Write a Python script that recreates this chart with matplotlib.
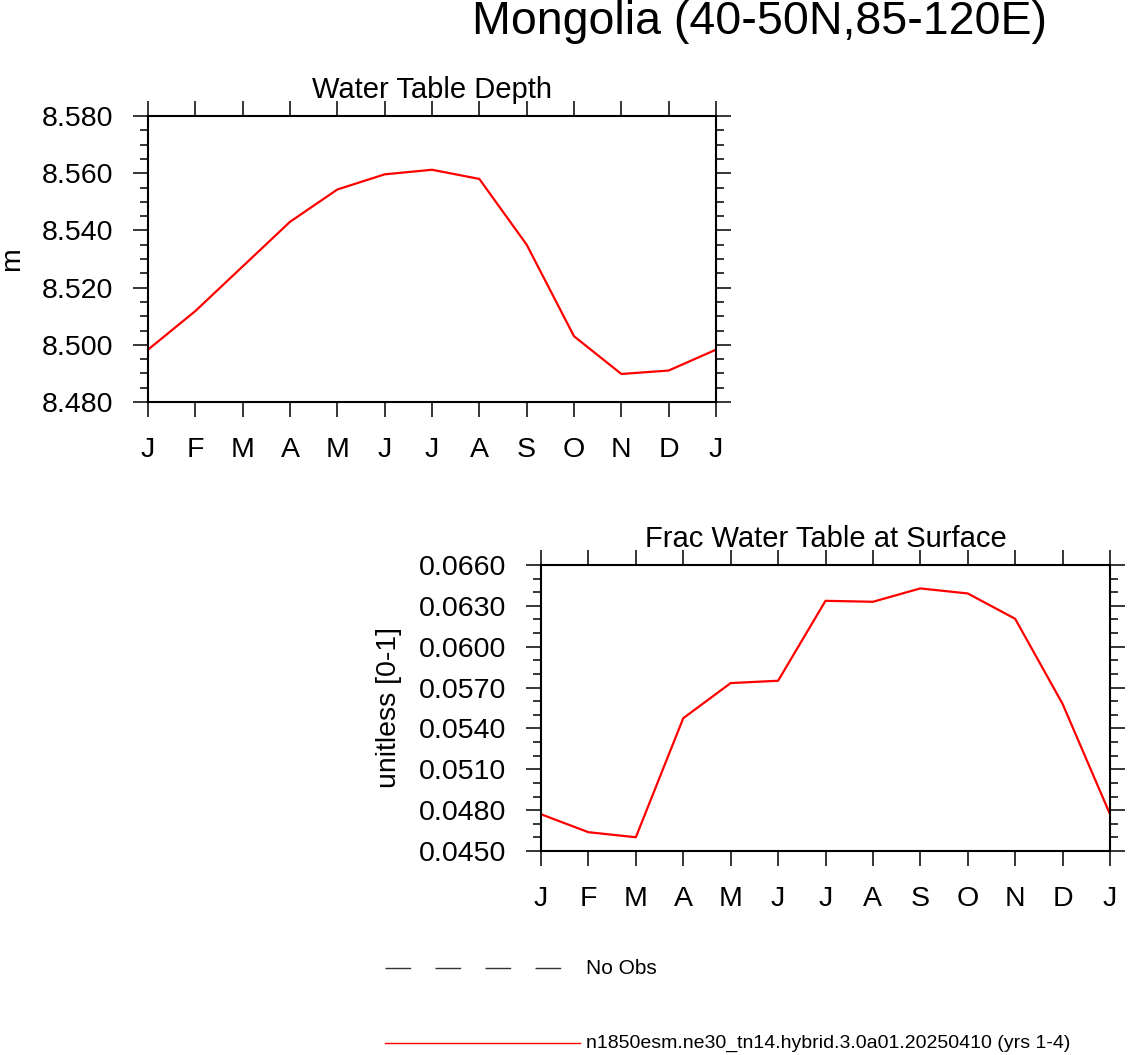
import matplotlib
matplotlib.use("Agg")
import matplotlib.pyplot as plt
from matplotlib.lines import Line2D
from matplotlib.ticker import MultipleLocator

plt.rcParams['font.family'] = ['Liberation Sans', 'DejaVu Sans']

months = ['J', 'F', 'M', 'A', 'M', 'J', 'J', 'A', 'S', 'O', 'N', 'D', 'J']

# monthly climatology, Jan repeated at the end
wtd = [8.4983, 8.5118, 8.5274, 8.5430, 8.5543, 8.5596, 8.5612,
       8.5580, 8.5350, 8.5030, 8.4898, 8.4910, 8.4983]
frac_wt = [0.0477, 0.04638, 0.04601, 0.05475, 0.05733, 0.0575, 0.06337,
           0.0633, 0.06428, 0.06391, 0.06205, 0.0558, 0.0477]

case_name = 'n1850esm.ne30_tn14.hybrid.3.0a01.20250410 (yrs 1-4)'

W, H = 1128, 1055
fig = plt.figure(figsize=(W / 100, H / 100), dpi=100)


def px_axes(x0, y0, x1, y1):
    return fig.add_axes([x0 / W, 1 - y1 / H, (x1 - x0) / W, (y1 - y0) / H])


def style_panel(ax, title, ylabel, ylim, major, minor, fmt):
    ax.set_xlim(0, 12)
    ax.set_ylim(*ylim)
    ax.set_xticks(range(13))
    ax.set_xticklabels(months)
    ax.yaxis.set_major_locator(MultipleLocator(major))
    ax.yaxis.set_minor_locator(MultipleLocator(minor))
    ax.yaxis.set_major_formatter(plt.FormatStrFormatter(fmt))
    for s in ax.spines.values():
        s.set_linewidth(1.5)
    ax.tick_params(which='both', direction='out', top=True, right=True,
                   labelsize=20.5, width=1.1)
    ax.tick_params(which='major', length=11, pad=14)
    ax.tick_params(which='minor', length=5.5)
    ax.tick_params(axis='x', which='minor', bottom=False, top=False)
    ax.set_title(title, fontsize=21, pad=13)
    ax.set_ylabel(ylabel, fontsize=20.5, labelpad=12)


ax1 = px_axes(148, 116, 716, 402)
ax1.plot(range(13), wtd, color='red', lw=1.6)
style_panel(ax1, 'Water Table Depth', 'm', (8.48, 8.58), 0.02, 0.005, '%.3f')

ax2 = px_axes(541, 565, 1110, 851)
ax2.plot(range(13), frac_wt, color='red', lw=1.6)
style_panel(ax2, 'Frac Water Table at Surface', 'unitless [0-1]',
            (0.045, 0.066), 0.003, 0.001, '%.4f')

fig.text(759 / W, 1 - 22 / H, 'Mongolia (40-50N,85-120E)', fontsize=33.5,
         ha='center', va='center')

# legend
fig.add_artist(Line2D([385 / W, 562 / W], [1 - 968 / H] * 2, color='#333333',
                      lw=1.0, dashes=(18.5, 17.5)))
fig.text(586 / W, 1 - 968 / H, 'No Obs', fontsize=15, va='center')
fig.add_artist(Line2D([385 / W, 580 / W], [1 - 1043 / H] * 2, color='red',
                      lw=1.0))
fig.text(586 / W, 1 - 1043 / H, case_name, fontsize=14, va='center')

fig.savefig('out.png', dpi=100)
